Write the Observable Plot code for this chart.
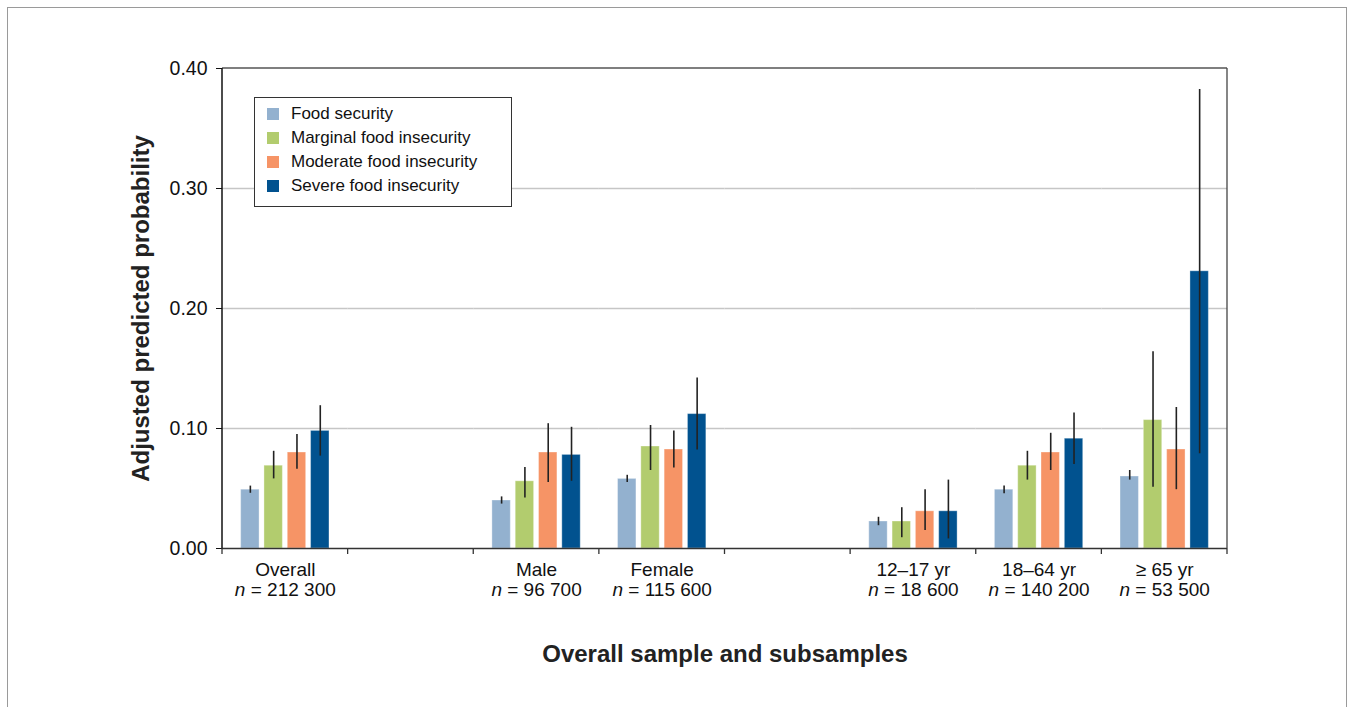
<!DOCTYPE html>
<html><head><meta charset="utf-8">
<script src="https://cdn.jsdelivr.net/npm/d3@7"></script>
<script src="https://cdn.jsdelivr.net/npm/@observablehq/plot@0.6"></script>
<style>
body{margin:0;background:#fff;font-family:"Liberation Sans",Arial,sans-serif;}
#wrap{position:relative;width:1353px;height:707px;overflow:hidden;}
#border{position:absolute;left:7px;top:7px;width:1338px;height:760px;border:1px solid #9a9a9a;}
#legend{position:absolute;left:254px;top:97px;width:258px;height:110px;border:1px solid #333;background:#fff;box-sizing:border-box;}
.item{position:absolute;left:12px;height:20px;font-size:17px;color:#111;white-space:nowrap;}
.sw{position:absolute;left:0;top:4px;width:12px;height:12px;}
.lab{position:absolute;left:24px;top:0px;}
#chart{position:absolute;left:0;top:0;}
g[aria-label="fx-axis label"] text, g[aria-label="y-axis label"] text{font-weight:bold;font-size:24px;fill:#222;}
g[aria-label="fx-axis tick label"] text{font-size:19px;}
g[aria-label="y-axis tick label"] text{font-size:19.5px;}
</style>
</head><body>
<div id="wrap"><div id="border"></div><div id="chart"></div><div id="legend"></div></div>
<script>
const categories = ["Overall", "Male", "Female", "12–17 yr", "18–64 yr", "≥ 65 yr"];
const sampleSizes = ["212 300", "96 700", "115 600", "18 600", "140 200", "53 500"];
const groupOrder = ["Overall", "gap1", "Male", "Female", "gap2", "12–17 yr", "18–64 yr", "≥ 65 yr"];
const series = ["Food security", "Marginal food insecurity", "Moderate food insecurity", "Severe food insecurity"];
const colors = ["#93b1cf", "#b2cc6e", "#f69466", "#01528f"];

const foodSecurity = [0.049, 0.040, 0.058, 0.0225, 0.049, 0.060];
const marginal     = [0.069, 0.056, 0.085, 0.0225, 0.069, 0.107];
const moderate     = [0.080, 0.080, 0.0825, 0.031, 0.080, 0.0825];
const severe       = [0.098, 0.078, 0.112, 0.031, 0.0915, 0.231];

const foodLow      = [0.046, 0.037, 0.055, 0.019, 0.0456, 0.057];
const foodHigh     = [0.052, 0.043, 0.061, 0.026, 0.052, 0.065];
const marginalLow  = [0.058, 0.042, 0.065, 0.009, 0.057, 0.051];
const marginalHigh = [0.081, 0.0675, 0.1025, 0.034, 0.081, 0.164];
const moderateLow  = [0.066, 0.055, 0.067, 0.015, 0.065, 0.049];
const moderateHigh = [0.095, 0.104, 0.098, 0.049, 0.096, 0.1175];
const severeLow    = [0.077, 0.056, 0.082, 0.008, 0.070, 0.079];
const severeHigh   = [0.119, 0.101, 0.142, 0.057, 0.113, 0.3825];

const yTicks = [0, 0.1, 0.2, 0.3, 0.4];
const gridValues = [0.1, 0.2, 0.3];

const values = [foodSecurity, marginal, moderate, severe];
const lows = [foodLow, marginalLow, moderateLow, severeLow];
const highs = [foodHigh, marginalHigh, moderateHigh, severeHigh];

(function () {
const rows = [];
categories.forEach((c, i) => series.forEach((s, j) => rows.push({category: c, series: s, value: values[j][i], low: lows[j][i], high: highs[j][i]})));
const gridRows = [];
groupOrder.forEach(g => gridValues.forEach(v => gridRows.push({group: g, v})));
const baseRows = groupOrder.map(g => ({group: g, v: 0}));

const labelFor = d => {
  const i = categories.indexOf(d);
  return i < 0 ? "" : d + "\n" + "n = " + sampleSizes[i];
};

const plot = Plot.plot({
  width: 1353, height: 707,
  marginTop: 68, marginBottom: 159, marginLeft: 222, marginRight: 126,
  style: {fontFamily: '"Liberation Sans", Arial, sans-serif', color: "#111", background: "transparent"},
  fx: {domain: groupOrder, padding: 0, round: false},
  x: {domain: series, paddingInner: 0.21, paddingOuter: 0.8, round: false, axis: null},
  y: {domain: [0, 0.4]},
  color: {domain: series, range: colors},
  marks: [
    Plot.ruleY(gridRows, {fx: "group", y: "v", stroke: "#c6c6c6", strokeWidth: 1.5}),
    Plot.barY(rows, {fx: "category", x: "series", y: "value", fill: "series", stroke: "#ffffff", strokeOpacity: 0.35, strokeWidth: 1}),
    Plot.ruleX(rows, {fx: "category", x: "series", y1: "low", y2: "high", stroke: "#222", strokeWidth: 1.6}),
    Plot.ruleY(baseRows, {fx: "group", y: "v", stroke: "#333", strokeWidth: 1.5}),
    Plot.axisY({ticks: yTicks, tickFormat: ".2f", tickSize: 6, tickPadding: 9, label: "Adjusted predicted probability", labelAnchor: "center", labelOffset: 91, labelArrow: "none"}),
    Plot.axisFx({anchor: "bottom", tickSize: 0, tickPadding: 13, lineHeight: 1.05, tickFormat: labelFor, label: "Overall sample and subsamples", labelAnchor: "center", labelOffset: 113, labelArrow: "none"})
  ]
});

d3.select(plot).selectAll('g[aria-label="fx-axis tick label"] tspan').each(function() {
  const t = this.textContent;
  if (t.startsWith("n = ")) {
    this.textContent = "";
    d3.select(this).append("tspan").attr("font-style", "italic").text("n");
    this.appendChild(document.createTextNode(t.slice(1)));
  }
});

const fxs = plot.scale("fx"), ys = plot.scale("y");
const xL = fxs.apply(groupOrder[0]);
const xR = fxs.apply(groupOrder[groupOrder.length - 1]) + fxs.bandwidth;
const yT = ys.apply(0.4), yB = ys.apply(0);
const g = d3.select(plot).append("g");
g.append("line").attr("x1", xL).attr("x2", xR).attr("y1", yT).attr("y2", yT).attr("stroke", "#555").attr("stroke-width", 1.3);
g.append("line").attr("x1", xR).attr("x2", xR).attr("y1", yT).attr("y2", yB).attr("stroke", "#444").attr("stroke-width", 1.3);
g.append("line").attr("x1", xL).attr("x2", xL).attr("y1", yT).attr("y2", yB + 0.75).attr("stroke", "#111").attr("stroke-width", 1.5);
const edges = groupOrder.map(d => fxs.apply(d)).concat([xR]);
edges.forEach(x => g.append("line").attr("x1", x).attr("x2", x).attr("y1", yB).attr("y2", yB + 6).attr("stroke", "#333").attr("stroke-width", 1.3));

document.getElementById("chart").appendChild(plot);

const legend = document.getElementById("legend");
series.forEach((s, i) => {
  const item = document.createElement("div");
  item.className = "item";
  item.style.top = (6 + i * 24) + "px";
  item.innerHTML = `<div class="sw" style="background:${colors[i]}"></div><div class="lab">${s}</div>`;
  legend.appendChild(item);
});
})();
</script>
</body></html>
